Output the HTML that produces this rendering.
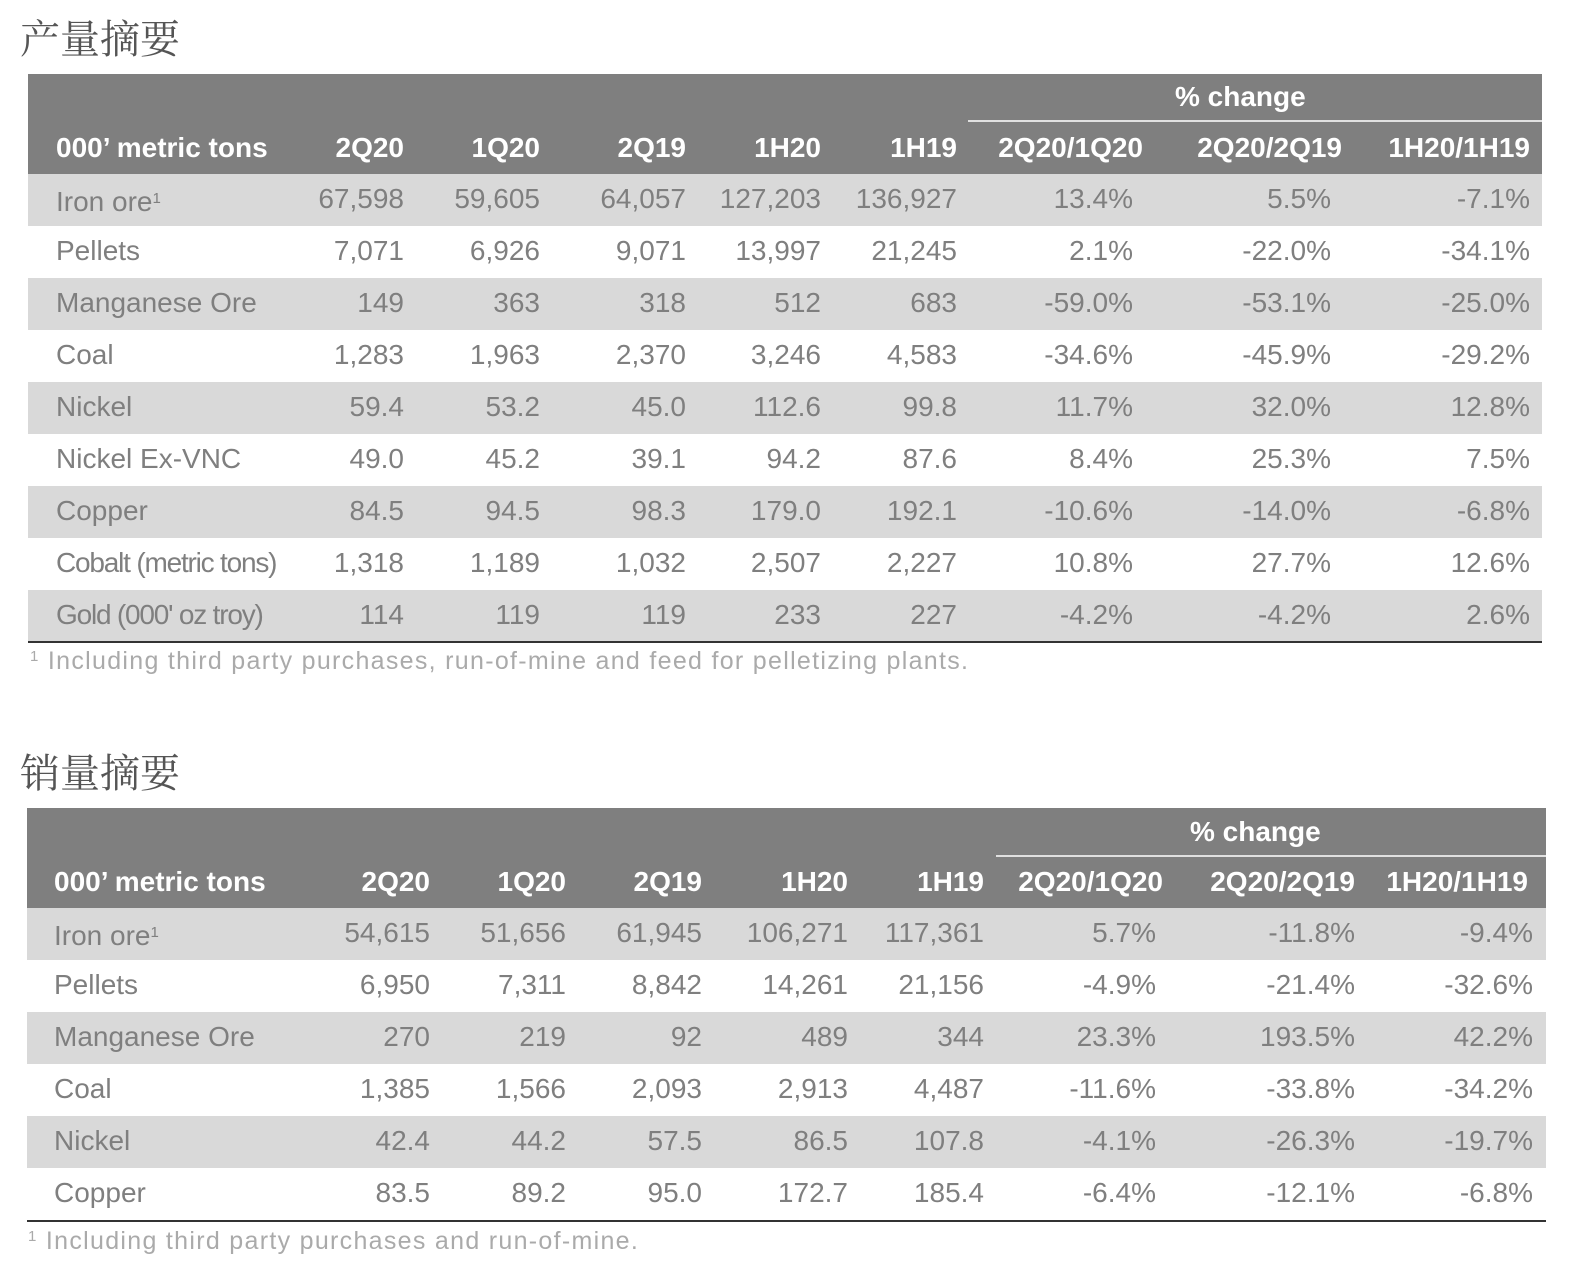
<!DOCTYPE html>
<html><head><meta charset="utf-8"><style>
body{margin:0;width:1576px;height:1272px;background:#fff;position:relative;overflow:hidden;font-family:"Liberation Sans","Noto Sans CJK SC",sans-serif}
.t{position:absolute;font-family:"Liberation Serif","Noto Serif CJK SC",serif;font-size:40px;color:#555}
.hd{position:absolute;background:#7f7f7f}
.r{position:absolute;height:52px;line-height:50px;font-size:28px;color:#7f7f7f}
.g{background:#d9d9d9}
.r span,.h span{position:absolute;top:0;white-space:nowrap}
.h{position:absolute;height:50px;line-height:50px;font-size:28px;color:#fff;font-weight:bold}
.A1{right:1172px}.A2{right:1036px}.A3{right:890px}.A4{right:755px}.A5{right:619px}.A6{right:443px}.A7{right:245px}.A8{right:46px}
.H6{right:433px}.H7{right:234px}
.B1{right:1146px}.B2{right:1010px}.B3{right:874px}.B4{right:728px}.B5{right:592px}.B6{right:420px}.B7{right:221px}.B8{right:43px}
.K6{right:413px}
.fn{position:absolute;font-size:25px;color:#aaa;letter-spacing:1.3px}
.line{position:absolute;height:2px;background:#333}
sup{font-size:15px;vertical-align:8px}
</style></head><body>
<div class="t" style="left:20px;top:8px">产量摘要</div>
<div class="hd" style="left:28px;top:74px;width:1514px;height:100px"></div>
<div style="position:absolute;left:968px;top:120px;width:574px;height:2px;background:#e0e0e0"></div>
<div class="h" style="left:0;top:72px;width:1576px;font-weight:bold"><span style="left:1175px">% change</span></div>
<div class="h" style="left:0;top:123px;width:1576px">
<span style="left:56px">000’ metric tons</span><span class="A1">2Q20</span><span class="A2">1Q20</span><span class="A3">2Q19</span><span class="A4">1H20</span><span class="A5">1H19</span><span class="H6">2Q20/1Q20</span><span class="H7">2Q20/2Q19</span><span class="A8">1H20/1H19</span></div>

<div class="r g" style="left:28px;width:1514px;top:174px"></div>
<div class="r g" style="left:28px;width:1514px;top:278px"></div>
<div class="r g" style="left:28px;width:1514px;top:382px"></div>
<div class="r g" style="left:28px;width:1514px;top:486px"></div>
<div class="r g" style="left:28px;width:1514px;top:590px"></div>

<div class="r" style="left:0;width:1576px;top:174px"><span style="left:56px">Iron ore<sup>1</sup></span><span class="A1">67,598</span><span class="A2">59,605</span><span class="A3">64,057</span><span class="A4">127,203</span><span class="A5">136,927</span><span class="A6">13.4%</span><span class="A7">5.5%</span><span class="A8">-7.1%</span></div>
<div class="r" style="left:0;width:1576px;top:226px"><span style="left:56px">Pellets</span><span class="A1">7,071</span><span class="A2">6,926</span><span class="A3">9,071</span><span class="A4">13,997</span><span class="A5">21,245</span><span class="A6">2.1%</span><span class="A7">-22.0%</span><span class="A8">-34.1%</span></div>
<div class="r" style="left:0;width:1576px;top:278px"><span style="left:56px">Manganese Ore</span><span class="A1">149</span><span class="A2">363</span><span class="A3">318</span><span class="A4">512</span><span class="A5">683</span><span class="A6">-59.0%</span><span class="A7">-53.1%</span><span class="A8">-25.0%</span></div>
<div class="r" style="left:0;width:1576px;top:330px"><span style="left:56px">Coal</span><span class="A1">1,283</span><span class="A2">1,963</span><span class="A3">2,370</span><span class="A4">3,246</span><span class="A5">4,583</span><span class="A6">-34.6%</span><span class="A7">-45.9%</span><span class="A8">-29.2%</span></div>
<div class="r" style="left:0;width:1576px;top:382px"><span style="left:56px">Nickel</span><span class="A1">59.4</span><span class="A2">53.2</span><span class="A3">45.0</span><span class="A4">112.6</span><span class="A5">99.8</span><span class="A6">11.7%</span><span class="A7">32.0%</span><span class="A8">12.8%</span></div>
<div class="r" style="left:0;width:1576px;top:434px"><span style="left:56px">Nickel Ex-VNC</span><span class="A1">49.0</span><span class="A2">45.2</span><span class="A3">39.1</span><span class="A4">94.2</span><span class="A5">87.6</span><span class="A6">8.4%</span><span class="A7">25.3%</span><span class="A8">7.5%</span></div>
<div class="r" style="left:0;width:1576px;top:486px"><span style="left:56px">Copper</span><span class="A1">84.5</span><span class="A2">94.5</span><span class="A3">98.3</span><span class="A4">179.0</span><span class="A5">192.1</span><span class="A6">-10.6%</span><span class="A7">-14.0%</span><span class="A8">-6.8%</span></div>
<div class="r" style="left:0;width:1576px;top:538px"><span style="left:56px;letter-spacing:-1.2px">Cobalt (metric tons)</span><span class="A1">1,318</span><span class="A2">1,189</span><span class="A3">1,032</span><span class="A4">2,507</span><span class="A5">2,227</span><span class="A6">10.8%</span><span class="A7">27.7%</span><span class="A8">12.6%</span></div>
<div class="r" style="left:0;width:1576px;top:590px"><span style="left:56px;letter-spacing:-1.2px">Gold (000' oz troy)</span><span class="A1">114</span><span class="A2">119</span><span class="A3">119</span><span class="A4">233</span><span class="A5">227</span><span class="A6">-4.2%</span><span class="A7">-4.2%</span><span class="A8">2.6%</span></div>
<div class="line" style="left:28px;top:641px;width:1514px"></div>
<div class="fn" style="left:30px;top:647px"><sup>1</sup> Including third party purchases, run-of-mine and feed for pelletizing plants.</div>

<div class="t" style="left:20px;top:742px">销量摘要</div>
<div class="hd" style="left:27px;top:808px;width:1519px;height:100px"></div>
<div style="position:absolute;left:996px;top:855px;width:550px;height:2px;background:#e0e0e0"></div>
<div class="h" style="left:0;top:807px;width:1576px"><span style="left:1190px">% change</span></div>
<div class="h" style="left:0;top:857px;width:1576px">
<span style="left:54px">000’ metric tons</span><span class="B1">2Q20</span><span class="B2">1Q20</span><span class="B3">2Q19</span><span class="B4">1H20</span><span class="B5">1H19</span><span class="K6">2Q20/1Q20</span><span class="B7">2Q20/2Q19</span><span style="right:48px">1H20/1H19</span></div>

<div class="r g" style="left:27px;width:1519px;top:908px"></div>
<div class="r g" style="left:27px;width:1519px;top:1012px"></div>
<div class="r g" style="left:27px;width:1519px;top:1116px"></div>

<div class="r" style="left:0;width:1576px;top:908px"><span style="left:54px">Iron ore<sup>1</sup></span><span class="B1">54,615</span><span class="B2">51,656</span><span class="B3">61,945</span><span class="B4">106,271</span><span class="B5">117,361</span><span class="B6">5.7%</span><span class="B7">-11.8%</span><span class="B8">-9.4%</span></div>
<div class="r" style="left:0;width:1576px;top:960px"><span style="left:54px">Pellets</span><span class="B1">6,950</span><span class="B2">7,311</span><span class="B3">8,842</span><span class="B4">14,261</span><span class="B5">21,156</span><span class="B6">-4.9%</span><span class="B7">-21.4%</span><span class="B8">-32.6%</span></div>
<div class="r" style="left:0;width:1576px;top:1012px"><span style="left:54px">Manganese Ore</span><span class="B1">270</span><span class="B2">219</span><span class="B3">92</span><span class="B4">489</span><span class="B5">344</span><span class="B6">23.3%</span><span class="B7">193.5%</span><span class="B8">42.2%</span></div>
<div class="r" style="left:0;width:1576px;top:1064px"><span style="left:54px">Coal</span><span class="B1">1,385</span><span class="B2">1,566</span><span class="B3">2,093</span><span class="B4">2,913</span><span class="B5">4,487</span><span class="B6">-11.6%</span><span class="B7">-33.8%</span><span class="B8">-34.2%</span></div>
<div class="r" style="left:0;width:1576px;top:1116px"><span style="left:54px">Nickel</span><span class="B1">42.4</span><span class="B2">44.2</span><span class="B3">57.5</span><span class="B4">86.5</span><span class="B5">107.8</span><span class="B6">-4.1%</span><span class="B7">-26.3%</span><span class="B8">-19.7%</span></div>
<div class="r" style="left:0;width:1576px;top:1168px"><span style="left:54px">Copper</span><span class="B1">83.5</span><span class="B2">89.2</span><span class="B3">95.0</span><span class="B4">172.7</span><span class="B5">185.4</span><span class="B6">-6.4%</span><span class="B7">-12.1%</span><span class="B8">-6.8%</span></div>
<div class="line" style="left:27px;top:1220px;width:1519px"></div>
<div class="fn" style="left:28px;top:1227px"><sup>1</sup> Including third party purchases and run-of-mine.</div>
</body></html>
